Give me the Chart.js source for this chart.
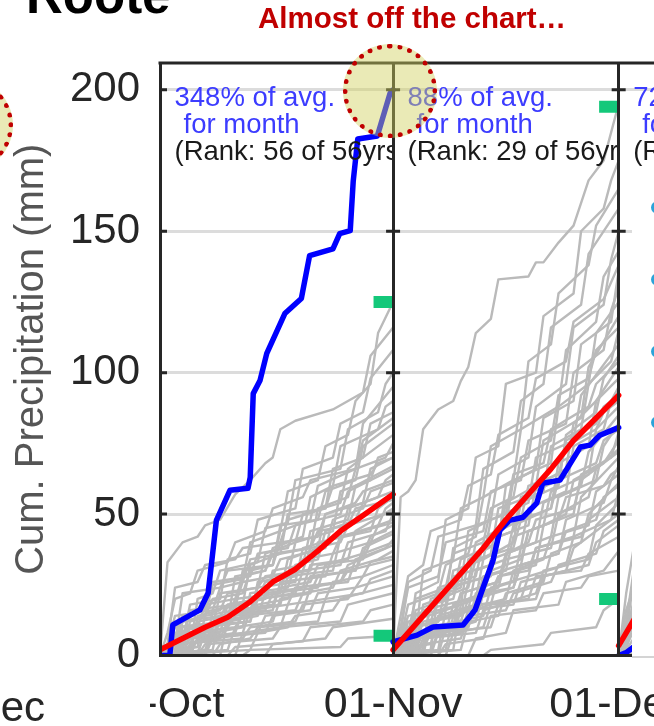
<!DOCTYPE html>
<html>
<head>
<meta charset="utf-8">
<title>Cumulative precipitation</title>
<script src="https://cdn.jsdelivr.net/npm/chart.js@4.4.1/dist/chart.umd.min.js"></script>
<style>
  html, body { margin: 0; padding: 0; background: #fff; }
  #slide { position: relative; width: 654px; height: 726px; overflow: hidden;
           font-family: "Liberation Sans", Arial, sans-serif; }
  #chart { position: absolute; left: 0; top: 0; }
  .txt { position: absolute; white-space: nowrap; }
  #station { left: 26px; top: -30px; font-size: 51px; line-height: 51px; font-weight: bold; color: #000; }
  #callout { left: 258px; top: 3px; font-size: 29.5px; line-height: 30px; font-weight: bold; color: #c00000; }
  .note { position: absolute; top: 83px; height: 86px; overflow: hidden; box-sizing: border-box;
          padding-left: 13px; white-space: nowrap; font-size: 27.5px; line-height: 27px; z-index: 1; }
  .note .pct, .note .mon { color: #3c3cff; }
  .note .mon { padding-left: 9px; }
  .note .rank { color: #1a1a1a; }
  .ring { position: absolute; width: 84px; height: 84px; border-radius: 50%;
          border: 5px dotted #c00000; background: rgba(209, 209, 93, 0.45); z-index: 3; }
  #ringMain { left: 343px; top: 44px; }
  #ringLeft { left: -81px; top: 78px; }
  #sideBox { position: absolute; left: 632px; top: 176px; width: 40px; height: 480px;
             background: #fff; border-bottom: 2px solid #d4d4d4; z-index: 2; }
  .dot { position: absolute; left: 19px; width: 13px; height: 13px; border-radius: 50%; background: #2ba3d9; }
  #cover { position: absolute; left: 48px; top: 668px; width: 102px; height: 58px; background: #fff; z-index: 2; }
  #prevLabel { left: -200px; width: 245px; text-align: right; top: 686px; font-size: 42px;
               line-height: 42px; color: #262626; z-index: 3; }
</style>
</head>
<body>
<div id="slide">
  <canvas id="chart" width="654" height="726"></canvas>
  <div class="txt" id="station">Roote</div>
  <div class="txt" id="callout">Almost off the chart…</div>
  <div class="ring" id="ringMain"></div>
  <div class="ring" id="ringLeft"></div>
  <div id="sideBox">
    <div class="dot" style="top:25px"></div>
    <div class="dot" style="top:97px"></div>
    <div class="dot" style="top:169px"></div>
    <div class="dot" style="top:240px"></div>
  </div>
  <div id="cover"></div>
  <div class="txt" id="prevLabel">01-Dec</div>
</div>
<script>
Chart.defaults.font.family = '"Liberation Sans", Arial, sans-serif';

// Month panels share one day axis (day 0 = 1 Oct)
const monthStart = [0, 31, 61];
const monthLabels = ['01-Oct', '01-Nov', '01-Dec'];
const yTicks = [0, 50, 100, 150, 200];

// Panel notes
const pctText = ['348% of avg.', '88% of avg.', '72% of avg.'];
const rankText = ['(Rank: 56 of 56yrs)', '(Rank: 29 of 56yrs)', '(Rank:'];

// Record month totals (green marks at month end)
const recordHigh = [125, 194];
const recordLow = [7, 20];

// This season, flat pairs: day of month, mm
const thisOct = [0,0, 1.3,0, 1.7,10.8, 5.3,16.1, 6.4,22.1, 6.9,33.7, 7.5,47.8, 9.3,58.4, 11.7,59.1, 12,63,
  12.4,92.6, 13.3,97.2, 14.2,106.8, 16.6,120.9, 18.8,126.2, 19.9,141.4, 23,143.8, 23.9,149.2, 25.3,150.2,
  25.7,167.8, 26.3,182.6, 28.9,183.7, 30.6,198.8, 31,200];
const thisNov = [0,4.8, 3.2,7.2, 5.3,10.1, 9.3,10.8, 10.9,16.1, 12,24.2, 13.3,33.7, 14.2,44.3, 15.5,47.8,
  17.3,48.9, 19.1,53.9, 19.9,60.9, 22.2,62, 24.9,73.7, 26.2,74.4, 27.5,77.9, 29.8,80.4, 30,80.6];
const thisDec = [0,0, 1,1, 2,3, 3,5];

// Long-term average
const avgOct = [0,2, 3,6, 6,10, 9,13.5, 12,19, 15,26, 18,30.5, 21,37, 24,44, 27,49.5, 31,57];
const avgNov = [0,2, 3,11, 6,20, 9,29, 12,38, 15,48, 18,57, 21,66, 24,76, 27,84, 30,92];
const avgDec = [0,3.5, 1,8, 2,12.5, 3,17];

// Past years, one flat pair list per year
const pastOct = [
  [0,0, 2,0, 3,12, 6,14, 7,25, 11,27, 12,40, 16,44, 17,58, 21,62, 22,74, 25,78, 26,90, 28,96, 29,114, 31,125],
  [0,0, 1,33, 3,40, 5,42, 6,46, 8,48, 10,57, 12,62, 14,68, 15,70, 16,80, 18,83, 23,87, 25,90, 27,93, 28,106, 31,116],
  [0,3, 3,5, 4,18, 8,20, 9,34, 12,36, 13,48, 18,52, 19,66, 23,70, 24,82, 27,86, 28,98, 31,108],
  [0,0, 4,2, 5,20, 7,22, 8,30, 13,33, 14,45, 17,47, 18,62, 24,66, 25,80, 29,86, 30,96, 31,100],
  [0,1, 5,3, 6,14, 10,16, 11,30, 15,32, 16,44, 20,48, 21,60, 26,66, 27,82, 31,95],
  [0,0, 2,2, 3,10, 9,12, 10,28, 14,30, 15,38, 19,42, 20,56, 23,60, 24,74, 29,80, 30,88, 31,90],
  [0,0, 6,0, 7,16, 11,18, 12,32, 16,36, 17,50, 22,52, 23,66, 27,70, 28,82, 31,86],
  [0,2, 2,4, 3,22, 8,24, 9,30, 15,32, 16,46, 21,48, 22,58, 26,62, 27,74, 31,82],
  [0,0, 3,0, 4,8, 7,10, 8,22, 13,24, 14,36, 18,40, 19,50, 24,54, 25,66, 31,78],
  [0,0, 1,4, 2,14, 7,16, 8,24, 11,26, 12,34, 20,38, 21,52, 25,56, 26,66, 30,70, 31,75],
  [0,0, 5,0, 6,10, 12,12, 13,26, 17,28, 18,40, 23,44, 24,58, 28,62, 29,70, 31,72],
  [0,1, 4,3, 5,12, 9,14, 10,20, 16,22, 17,34, 21,38, 22,50, 27,54, 28,66, 31,70],
  [0,0, 2,0, 3,6, 8,8, 9,18, 14,20, 15,30, 19,32, 20,44, 25,48, 26,60, 31,67],
  [0,0, 7,2, 8,14, 12,16, 13,24, 18,26, 19,38, 24,42, 25,52, 29,56, 30,62, 31,64],
  [0,2, 3,4, 4,16, 10,18, 11,26, 15,28, 16,34, 22,38, 23,48, 27,52, 28,58, 31,61],
  [0,0, 6,2, 7,8, 11,10, 12,22, 17,24, 18,32, 21,34, 22,44, 26,48, 27,54, 31,58],
  [0,0, 1,2, 2,10, 9,12, 10,18, 14,20, 15,28, 20,30, 21,40, 28,44, 29,52, 31,56],
  [0,0, 4,0, 5,6, 10,8, 11,16, 16,18, 17,28, 23,30, 24,42, 29,46, 30,52, 31,54],
  [0,0, 8,0, 9,12, 13,14, 14,22, 19,24, 20,32, 25,34, 26,44, 31,52],
  [0,1, 3,3, 4,10, 12,12, 13,20, 18,22, 19,30, 24,32, 25,40, 30,44, 31,50],
  [0,0, 5,1, 6,8, 9,10, 10,14, 15,16, 16,26, 22,28, 23,36, 28,40, 29,46, 31,48],
  [0,0, 2,0, 3,4, 7,6, 8,14, 14,16, 15,22, 21,24, 22,32, 27,36, 28,42, 31,46],
  [0,0, 9,2, 10,10, 15,12, 16,20, 20,22, 21,28, 26,30, 27,38, 31,43],
  [0,0, 3,1, 4,6, 11,8, 12,16, 17,18, 18,24, 25,26, 26,34, 30,38, 31,41],
  [0,0, 6,0, 7,6, 13,8, 14,14, 19,16, 20,24, 24,26, 25,32, 31,39],
  [0,1, 2,2, 3,8, 10,10, 11,14, 18,16, 19,22, 23,24, 24,30, 29,34, 31,37],
  [0,0, 10,0, 11,8, 16,10, 17,18, 22,20, 23,26, 27,28, 28,33, 31,35],
  [0,0, 4,2, 5,6, 14,8, 15,14, 20,16, 21,22, 26,24, 27,28, 31,32],
  [0,0, 7,0, 8,4, 12,6, 13,10, 21,12, 22,20, 27,22, 28,27, 31,30],
  [0,0, 1,0, 2,4, 11,6, 12,10, 18,12, 19,18, 25,20, 26,24, 31,28],
  [0,0, 12,2, 13,8, 17,10, 18,14, 23,16, 24,20, 31,25],
  [0,0, 5,0, 6,4, 15,6, 16,10, 24,12, 25,18, 31,22],
  [0,0, 9,0, 10,3, 19,5, 20,10, 27,12, 28,16, 31,18],
  [0,0, 14,0, 15,4, 22,6, 23,10, 31,13],
  [0,0, 11,0, 12,2, 24,3, 25,6, 31,7],
  [0,0, 1,8, 2,20, 4,22, 5,30, 9,33, 10,40, 14,44, 15,52, 19,56, 20,62, 26,66, 27,76, 31,84],
  [0,0, 2,6, 3,14, 6,16, 7,26, 12,28, 13,36, 17,38, 18,46, 24,50, 25,58, 31,66],
  [0,1, 1,4, 2,24, 5,26, 6,32, 10,34, 11,38, 16,40, 17,48, 22,52, 23,60, 28,64, 29,68, 31,70],
  [0,0, 3,2, 4,12, 6,14, 7,20, 11,22, 12,30, 15,32, 16,40, 21,42, 22,50, 26,54, 27,58, 31,62],
  [0,0, 1,0, 2,8, 5,10, 6,18, 10,20, 11,28, 14,30, 15,36, 20,38, 21,44, 25,46, 26,52, 31,55],
  [0,0, 4,0, 5,14, 8,16, 9,22, 13,24, 14,28, 19,30, 20,38, 24,40, 25,46, 31,51],
  [0,2, 2,4, 3,12, 8,14, 9,18, 13,20, 14,26, 18,28, 19,34, 23,36, 24,42, 31,47],
  [0,0, 6,0, 7,10, 9,12, 10,16, 15,18, 16,24, 20,26, 21,32, 27,34, 28,40, 31,44],
  [0,0, 3,0, 4,4, 8,6, 9,12, 12,14, 13,20, 19,22, 20,28, 26,30, 27,36, 31,40],
  [0,1, 1,2, 2,6, 6,8, 7,12, 12,14, 13,18, 17,20, 18,24, 24,26, 25,30, 31,34]
];
const pastNov = [
  [0,0, 1,56, 2,58, 3,62, 4,80, 6,87, 8,90, 9,97, 10,102, 11,114, 13,119, 14,133, 18,134, 19,139, 20,139, 22,146, 24,152, 26,168, 28,175, 30,195],
  [0,0, 2,4, 3,22, 6,26, 7,48, 10,52, 11,70, 14,74, 15,96, 19,100, 20,120, 24,128, 25,150, 28,158, 29,168, 30,175],
  [0,2, 3,6, 4,30, 8,34, 9,52, 12,56, 13,74, 17,80, 18,104, 21,110, 22,128, 26,138, 27,152, 30,165],
  [0,0, 1,8, 2,26, 5,30, 6,42, 11,46, 12,66, 16,72, 17,90, 20,96, 21,116, 25,124, 26,142, 30,158],
  [0,0, 4,2, 5,20, 9,24, 10,44, 13,48, 14,64, 18,70, 19,88, 23,96, 24,116, 28,124, 29,140, 30,150],
  [0,1, 2,4, 3,16, 7,20, 8,38, 11,42, 12,56, 16,62, 17,80, 22,88, 23,108, 27,118, 28,134, 30,143],
  [0,0, 3,0, 4,18, 8,22, 9,34, 14,40, 15,60, 19,66, 20,84, 24,90, 25,110, 29,118, 30,136],
  [0,2, 1,10, 2,24, 6,28, 7,40, 12,44, 13,58, 17,62, 18,76, 23,82, 24,100, 28,108, 29,122, 30,130],
  [0,0, 5,2, 6,22, 10,26, 11,40, 15,46, 16,62, 21,68, 22,88, 26,96, 27,114, 30,125],
  [0,0, 2,2, 3,14, 9,18, 10,34, 14,40, 15,54, 19,60, 20,76, 25,84, 26,102, 30,120],
  [0,1, 4,4, 5,18, 8,20, 9,30, 13,36, 14,52, 20,58, 21,74, 25,80, 26,96, 29,104, 30,115],
  [0,0, 1,4, 2,12, 7,16, 8,30, 12,34, 13,48, 18,54, 19,70, 24,76, 25,92, 30,110],
  [0,0, 6,2, 7,16, 11,20, 12,34, 16,40, 17,54, 22,60, 23,78, 27,86, 28,98, 30,106],
  [0,2, 3,4, 4,12, 10,16, 11,30, 15,34, 16,46, 21,52, 22,68, 26,74, 27,90, 30,102],
  [0,0, 2,0, 3,10, 6,12, 7,24, 13,28, 14,42, 18,46, 19,60, 23,66, 24,82, 30,98],
  [0,0, 8,2, 9,18, 12,22, 13,34, 17,38, 18,52, 23,58, 24,74, 28,80, 29,90, 30,95],
  [0,1, 1,6, 2,14, 5,16, 6,24, 11,28, 12,40, 16,44, 17,56, 22,62, 23,76, 27,82, 28,88, 30,92],
  [0,0, 4,0, 5,12, 9,14, 10,26, 15,30, 16,42, 20,46, 21,58, 26,64, 27,80, 30,88],
  [0,0, 3,2, 4,8, 8,10, 9,22, 14,26, 15,36, 19,40, 20,54, 25,60, 26,72, 30,85],
  [0,0, 1,2, 2,6, 10,10, 11,22, 16,26, 17,38, 21,42, 22,56, 27,62, 28,74, 30,82],
  [0,2, 5,4, 6,14, 11,18, 12,28, 17,32, 18,44, 24,50, 25,64, 29,70, 30,79],
  [0,0, 7,2, 8,14, 13,18, 14,28, 19,32, 20,46, 23,50, 24,62, 28,68, 30,76],
  [0,0, 2,2, 3,8, 9,12, 10,20, 14,24, 15,34, 21,38, 22,50, 26,56, 27,66, 30,73],
  [0,1, 4,3, 5,10, 12,14, 13,24, 18,28, 19,38, 24,42, 25,56, 30,70],
  [0,0, 6,0, 7,10, 10,12, 11,20, 16,24, 17,32, 22,36, 23,48, 28,54, 29,62, 30,67],
  [0,0, 1,2, 2,8, 8,10, 9,16, 15,20, 16,30, 20,34, 21,42, 26,46, 27,58, 30,64],
  [0,0, 9,2, 10,12, 14,14, 15,22, 20,26, 21,36, 25,40, 26,50, 30,61],
  [0,0, 3,0, 4,6, 11,8, 12,16, 17,20, 18,28, 23,32, 24,42, 29,48, 30,58],
  [0,1, 5,2, 6,8, 13,10, 14,18, 19,22, 20,30, 26,34, 27,46, 30,54],
  [0,0, 2,0, 3,6, 9,8, 10,16, 16,18, 17,26, 23,30, 24,38, 30,50],
  [0,0, 7,0, 8,8, 12,10, 13,18, 19,20, 20,28, 26,32, 27,40, 30,46],
  [0,0, 4,2, 5,8, 10,10, 11,18, 18,20, 19,28, 25,30, 26,36, 30,42],
  [0,0, 10,0, 11,6, 15,8, 16,16, 22,18, 23,26, 28,30, 30,37],
  [0,0, 6,0, 7,4, 12,6, 13,14, 19,16, 20,22, 25,24, 26,28, 30,30],
  [0,0, 12,0, 13,2, 20,4, 21,8, 27,10, 28,16, 30,20],
  [0,0, 1,14, 2,28, 4,32, 5,44, 9,48, 10,60, 13,64, 14,78, 18,84, 19,98, 23,104, 24,118, 28,126, 30,138],
  [0,2, 2,8, 3,20, 7,24, 8,36, 12,40, 13,52, 16,56, 17,70, 21,76, 22,92, 26,98, 27,108, 30,116],
  [0,0, 1,6, 2,18, 6,22, 7,32, 10,36, 11,46, 15,50, 16,64, 20,68, 21,80, 26,88, 27,96, 30,104],
  [0,0, 3,4, 4,16, 7,18, 8,28, 13,32, 14,44, 17,48, 18,60, 22,64, 23,74, 27,80, 28,86, 30,90],
  [0,1, 2,4, 3,10, 5,12, 6,20, 10,24, 11,34, 16,38, 17,48, 21,52, 22,62, 27,68, 28,76, 30,80],
  [0,0, 4,2, 5,12, 8,14, 9,22, 14,26, 15,36, 18,40, 19,48, 24,52, 25,62, 30,72],
  [0,0, 2,2, 3,6, 7,8, 8,18, 12,22, 13,30, 17,34, 18,44, 22,48, 23,56, 28,60, 29,64, 30,66],
  [0,0, 5,0, 6,8, 11,12, 12,22, 16,24, 17,32, 22,36, 23,44, 27,48, 28,56, 30,60],
  [0,0, 1,4, 2,10, 6,12, 7,18, 13,22, 14,28, 18,30, 19,38, 25,42, 26,48, 30,56],
  [0,0, 3,0, 4,4, 9,6, 10,14, 15,16, 16,22, 21,26, 22,32, 27,36, 28,44, 30,48]
];
const pastDec = [
  [0,0, 1,4, 2,18, 3,22], [0,0, 1,12, 2,30, 3,34], [0,1, 1,6, 2,8, 3,14], [0,0, 1,0, 2,4, 3,10],
  [0,0, 1,3, 2,12, 3,16], [0,0, 1,16, 2,24, 3,28], [0,2, 1,9, 2,26, 3,30], [0,0, 1,1, 2,2, 3,8],
  [0,0, 1,6, 2,14, 3,22], [0,0, 1,22, 2,38, 3,42], [0,0, 1,3, 2,9, 3,12], [0,0, 1,8, 2,16, 3,30],
  [0,1, 1,11, 2,18, 3,20], [0,0, 1,2, 2,6, 3,6], [0,0, 1,5, 2,20, 3,26], [0,0, 1,0, 2,1, 3,4]
];

const thisSeason = [thisOct, thisNov, thisDec];
const average = [avgOct, avgNov, avgDec];
const pastYears = [pastOct, pastNov, pastDec];

// Turn a flat [day, mm, ...] list into chart points offset to the month start
function toPoints(flat, start) {
  const out = [];
  for (let i = 0; i < flat.length; i += 2) out.push({ x: start + flat[i], y: flat[i + 1] });
  return out;
}

const markDays = 2.6; // width of the record marks, in days

const datasets = [];
pastYears.forEach((years, m) => {
  years.forEach(line => datasets.push({
    data: toPoints(line, monthStart[m]),
    borderColor: '#bababa', borderWidth: 2.4, order: 5
  }));
});
[recordHigh, recordLow].forEach(rec => {
  rec.forEach((v, m) => {
    const end = monthStart[m + 1];
    datasets.push({
      data: [{ x: end - markDays, y: v }, { x: end, y: v }],
      borderColor: '#14c87a', borderWidth: 12, borderCapStyle: 'butt', order: 4
    });
  });
});
thisSeason.forEach((line, m) => datasets.push({
  data: toPoints(line, monthStart[m]),
  borderColor: '#0000ff', borderWidth: 5.5, borderCapStyle: 'round', order: 3
}));
average.forEach((line, m) => datasets.push({
  data: toPoints(line, monthStart[m]),
  borderColor: '#ff0000', borderWidth: 5.5, borderCapStyle: 'round', order: 2
}));

// Top frame line and the small y ticks on every month divider
const panelFrame = {
  id: 'panelFrame',
  afterDraw(chart) {
    const { ctx, chartArea: a, scales: { x, y } } = chart;
    ctx.save();
    ctx.strokeStyle = '#262626';
    ctx.lineWidth = 3;
    ctx.beginPath();
    ctx.moveTo(a.left - 1.5, a.top);
    ctx.lineTo(a.right, a.top);
    monthStart.forEach(d => {
      const px = x.getPixelForValue(d);
      yTicks.forEach(v => {
        const py = y.getPixelForValue(v);
        ctx.moveTo(Math.max(px - 7, a.left), py);
        ctx.lineTo(px + 7, py);
      });
    });
    ctx.stroke();
    ctx.restore();
  }
};

const chart = new Chart(document.getElementById('chart'), {
  type: 'line',
  data: { datasets },
  options: {
    responsive: false,
    devicePixelRatio: 1,
    animation: false,
    events: [],
    layout: { padding: { top: 63, right: 0, bottom: 0, left: 0 } },
    elements: { point: { radius: 0 }, line: { tension: 0, borderJoinStyle: 'round' } },
    plugins: { legend: { display: false }, tooltip: { enabled: false } },
    scales: {
      x: {
        type: 'linear', min: 0, max: 65.7,
        afterBuildTicks: s => { s.ticks = monthStart.map(v => ({ value: v })); },
        afterFit: s => { s.height = 70.5; s.paddingLeft = 0; s.paddingRight = 0; },
        grid: { color: '#262626', lineWidth: 3, drawTicks: false, z: 1 },
        border: { display: true, color: '#262626', width: 3, z: 1 },
        ticks: {
          autoSkip: false, maxRotation: 0, minRotation: 0, padding: 24, color: '#262626',
          font: { size: 43 },
          callback: (v, i) => monthLabels[i]
        }
      },
      y: {
        min: 0, max: 209.5,
        afterBuildTicks: s => { s.ticks = yTicks.map(v => ({ value: v })); },
        afterFit: s => { s.width = 160; },
        grid: { color: '#dcdcdc', lineWidth: 3, drawTicks: false },
        border: { display: false },
        ticks: { padding: 20, color: '#262626', font: { size: 42 } },
        title: {
          display: true, text: 'Cum. Precipitation (mm)', color: '#555555',
          font: { size: 40 }, padding: { top: 8, bottom: 0 }
        }
      }
    }
  },
  plugins: [panelFrame]
});

// Panel notes, clipped to their month panel
const xs = chart.scales.x;
const slide = document.getElementById('slide');
monthStart.forEach((d, m) => {
  const left = xs.getPixelForValue(d);
  const right = m + 1 < monthStart.length ? xs.getPixelForValue(monthStart[m + 1]) : chart.width + 40;
  const note = document.createElement('div');
  note.className = 'note';
  note.style.left = (left + 1.5) + 'px';
  note.style.width = (right - left - 3) + 'px';
  note.innerHTML = '<div class="pct">' + pctText[m] + '</div><div class="mon">for month</div>' +
    '<div class="rank">' + rankText[m] + '</div>';
  slide.appendChild(note);
});
</script>
</body>
</html>
